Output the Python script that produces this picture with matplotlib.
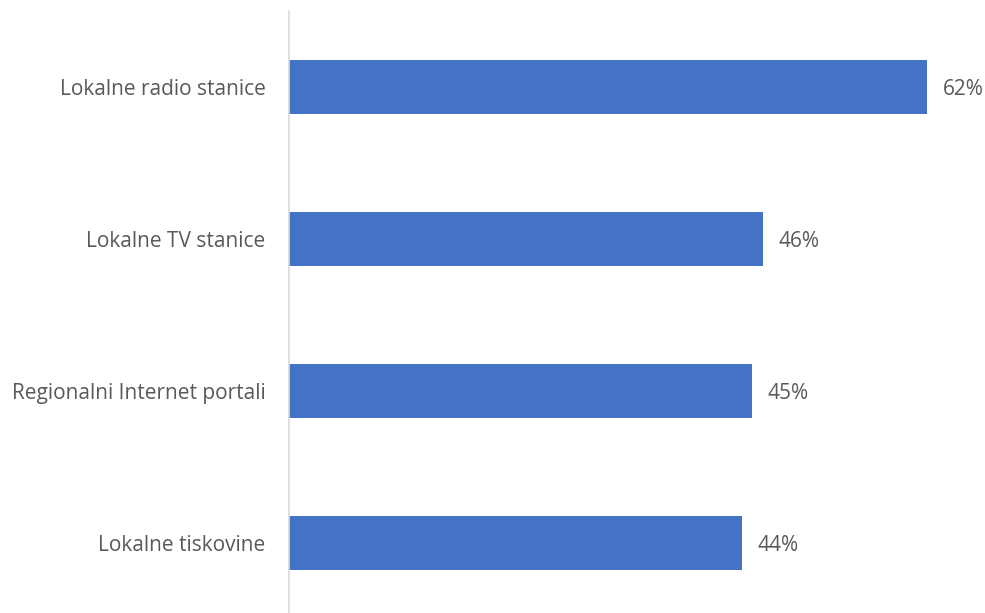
import matplotlib
matplotlib.use("Agg")
import matplotlib.pyplot as plt

categories = ["Lokalne radio stanice", "Lokalne TV stanice",
              "Regionalni Internet portali", "Lokalne tiskovine"]
values = [62, 46, 45, 44]
value_labels = ["62%", "46%", "45%", "44%"]

plt.rcParams["font.family"] = ["Open Sans", "DejaVu Sans"]

W, H = 985, 613
fig = plt.figure(figsize=(W / 100, H / 100), dpi=100)
# axes placed in pixel coordinates
left, right, top, bottom = 289, 985, 11, 619
ax = fig.add_axes([left / W, (H - bottom) / H, (right - left) / W, (bottom - top) / H])

ypos = list(range(len(categories)))
ax.barh(ypos, values, height=0.35, color="#4472C4")
ax.set_ylim(len(categories) - 0.5, -0.5)
ax.set_xlim(0, 67.6)

for y, v, lab in zip(ypos, values, value_labels):
    ax.text(v + 1.5, y, lab, va="center_baseline", ha="left", fontsize=15, color="#595959")

ax.set_yticks(ypos)
ax.set_yticklabels(categories, fontsize=15, color="#595959")
ax.tick_params(axis="y", length=0, pad=17)
ax.set_xticks([])
for s in ["top", "right", "bottom"]:
    ax.spines[s].set_visible(False)
ax.spines["left"].set_color("#D9D9D9")
ax.spines["left"].set_linewidth(1.2)

fig.savefig("out.png", dpi=100)
